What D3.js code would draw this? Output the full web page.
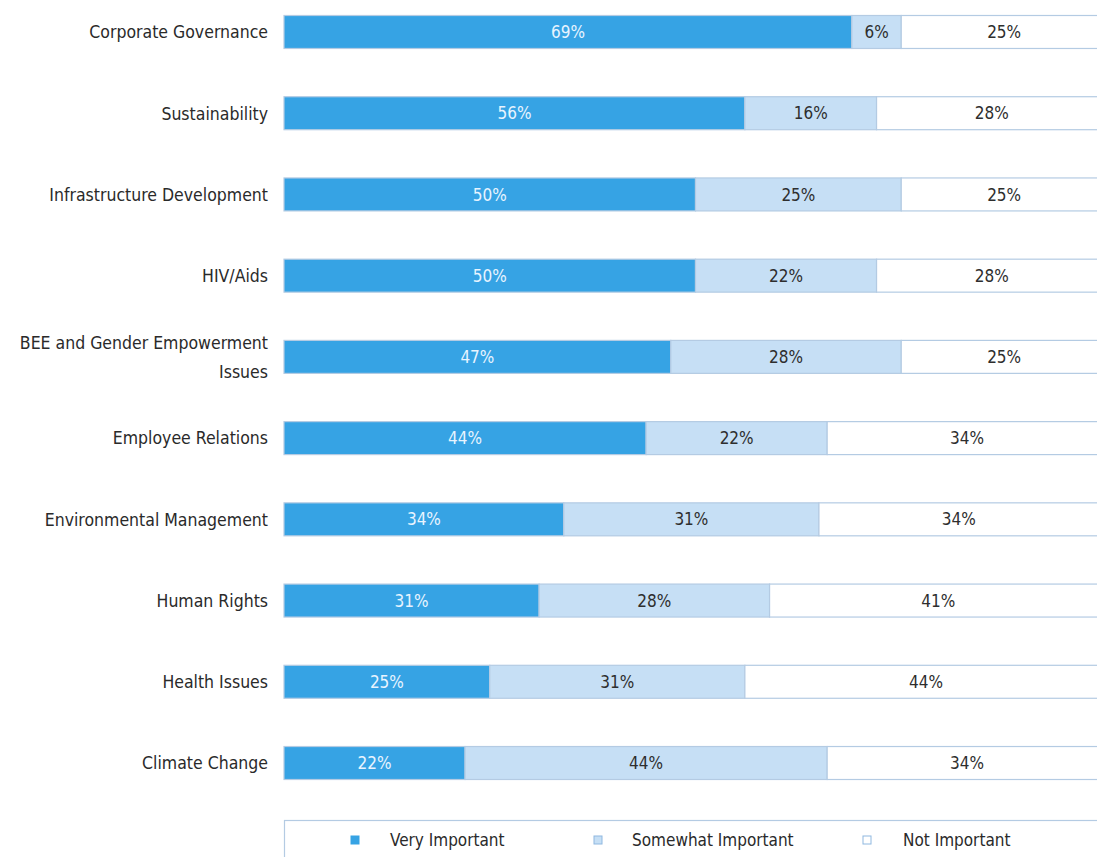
<!DOCTYPE html>
<html>
<head>
<meta charset="utf-8">
<script src="https://cdn.jsdelivr.net/npm/d3@7"></script>
<style>
  html, body { margin: 0; padding: 0; background: #ffffff; }
  svg { display: block; }
  text { font-family: "DejaVu Sans Condensed", "Liberation Sans Narrow", sans-serif; }
</style>
</head>
<body>
<svg id="chart" width="1097" height="857"></svg>
<script>
// Survey: importance of issues (share of respondents, %)
const categories = [
  "Corporate Governance",
  "Sustainability",
  "Infrastructure Development",
  "HIV/Aids",
  "BEE and Gender Empowerment Issues",
  "Employee Relations",
  "Environmental Management",
  "Human Rights",
  "Health Issues",
  "Climate Change"
];
const veryImportant     = [69, 56, 50, 50, 47, 44, 34, 31, 25, 22];
const somewhatImportant = [6, 16, 25, 22, 28, 22, 31, 28, 31, 44];
const notImportant      = [25, 28, 25, 28, 25, 34, 34, 41, 44, 34];
const seriesNames = ["Very Important", "Somewhat Important", "Not Important"];

const seriesValues = [veryImportant, somewhatImportant, notImportant];
const fills = ["#36a3e4", "#c6dff5", "#ffffff"];
const textFills = ["#e8f4ff", "#2e2e2e", "#2e2e2e"];
const edge = "#b4cbe3";

const svg = d3.select("#chart");

const x = d3.scaleLinear().domain([0, 100]).range([284, 1107]);
const y = d3.scaleBand()
  .domain(categories)
  .range([15.5, 779.5])
  .paddingInner(0.594)
  .paddingOuter(0);

// Build stacked rows
const rows = categories.map((c, i) => {
  let acc = 0;
  return seriesValues.map((vals, s) => {
    const seg = { cat: c, s, v: vals[i], x0: acc, x1: acc + vals[i] };
    acc += vals[i];
    return seg;
  });
});
const segments = rows.flat();

const g = svg.append("g");

g.selectAll("rect.seg")
  .data(segments)
  .join("rect")
  .attr("class", "seg")
  .attr("x", d => x(d.x0))
  .attr("y", d => y(d.cat))
  .attr("width", d => x(d.x1) - x(d.x0))
  .attr("height", y.bandwidth())
  .attr("fill", d => fills[d.s])
  .attr("stroke", edge)
  .attr("stroke-width", 1.2);

g.selectAll("text.val")
  .data(segments)
  .join("text")
  .attr("class", "val")
  .attr("x", d => (x(d.x0) + x(d.x1)) / 2)
  .attr("y", d => y(d.cat) + y.bandwidth() / 2)
  .attr("dy", "0.36em")
  .attr("text-anchor", "middle")
  .attr("font-size", 17)
  .attr("fill", d => textFills[d.s])
  .text(d => d.v + "%");

// Category labels (right aligned, wrapped where long)
const wrapAt = { "BEE and Gender Empowerment Issues": ["BEE and Gender Empowerment", "Issues"] };
const labelSize = 17.5;
const labels = g.selectAll("text.cat")
  .data(categories)
  .join("text")
  .attr("class", "cat")
  .attr("x", 268)
  .attr("y", d => y(d) + y.bandwidth() / 2)
  .attr("text-anchor", "end")
  .attr("font-size", labelSize)
  .attr("fill", "#2a2a2a");

labels.each(function(d) {
  const lines = wrapAt[d] || [d];
  const t = d3.select(this);
  const lh = 29;
  lines.forEach((ln, k) => {
    t.append("tspan")
      .attr("x", 268)
      .attr("dy", k === 0 ? (0.36 * labelSize - (lines.length - 1) * lh / 2) + "px" : lh + "px")
      .text(ln);
  });
});

// Legend
const legend = svg.append("g");
legend.append("rect")
  .attr("x", 284.5)
  .attr("y", 820.5)
  .attr("width", 900)
  .attr("height", 60)
  .attr("fill", "#ffffff")
  .attr("stroke", edge)
  .attr("stroke-width", 1.2);

const legendPos = [[351, 390], [594, 632], [863, 903]];
seriesNames.forEach((name, s) => {
  legend.append("rect")
    .attr("x", legendPos[s][0])
    .attr("y", 836)
    .attr("width", 8)
    .attr("height", 8)
    .attr("fill", s === 2 ? "#ffffff" : fills[s])
    .attr("stroke", s === 0 ? fills[0] : "#8fb8e0")
    .attr("stroke-width", 1);
  legend.append("text")
    .attr("x", legendPos[s][1])
    .attr("y", 840)
    .attr("dy", "0.36em")
    .attr("font-size", 17)
    .attr("fill", "#2a2a2a")
    .text(name);
});
</script>
</body>
</html>
